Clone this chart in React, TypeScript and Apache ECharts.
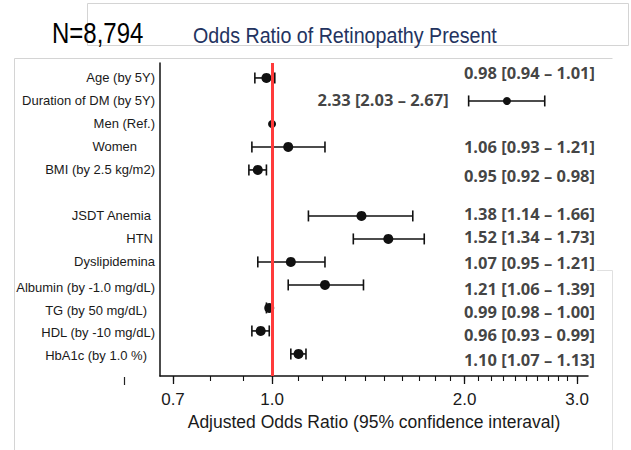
import React, { useEffect, useRef } from 'react';
import * as echarts from 'echarts';

// ---------------- data ----------------
const rowLabels = [
  'Age (by 5Y)',
  'Duration of DM (by 5Y)',
  'Men (Ref.)',
  'Women',
  'BMI (by 2.5 kg/m2)',
  '',
  'JSDT Anemia',
  'HTN',
  'Dyslipidemina',
  'Albumin (by -1.0 mg/dL)',
  'TG (by 50 mg/dL)',
  'HDL (by -10 mg/dL)',
  'HbA1c (by 1.0 %)',
];
const oddsRatios = [0.98, 2.33, 1.0, 1.06, 0.95, null, 1.38, 1.52, 1.07, 1.21, 0.99, 0.96, 1.1];
const ciLower = [0.94, 2.03, null, 0.93, 0.92, null, 1.14, 1.34, 0.95, 1.06, 0.98, 0.93, 1.07];
const ciUpper = [1.01, 2.67, null, 1.21, 0.98, null, 1.66, 1.73, 1.21, 1.39, 1.0, 0.99, 1.13];
const ciText = [
  '0.98 [0.94 – 1.01]',
  '2.33 [2.03 – 2.67]',
  '',
  '1.06 [0.93 – 1.21]',
  '0.95 [0.92 – 0.98]',
  '',
  '1.38 [1.14 – 1.66]',
  '1.52 [1.34 – 1.73]',
  '1.07 [0.95 – 1.21]',
  '1.21 [1.06 – 1.39]',
  '0.99 [0.98 – 1.00]',
  '0.96 [0.93 – 0.99]',
  '1.10 [1.07 – 1.13]',
];
const majorTicks = [0.7, 1.0, 2.0, 3.0];
const minorTicks = [
  0.7, 0.8, 0.9, 1.0, 1.1, 1.2, 1.3, 1.4, 1.5, 1.6, 1.7, 1.8, 1.9, 2.0,
  2.1, 2.2, 2.3, 2.4, 2.5, 2.6, 2.7, 2.8, 2.9, 3.0,
];
const axisRange = [0.668, 3.12];
const referenceValue = 1.0;
const sampleSize = 'N=8,794';
const chartTitle = 'Odds Ratio of Retinopathy Present';
const xAxisTitle = 'Adjusted Odds Ratio (95% confidence interaval)';

// ---------------- layout (not data) ----------------
const labelPadRight = [0, 0, 0, 18, 0, 0, 4, 2, 0, 0, 8, 0, 8];
const labelDy = [0, 0, 0, 0, 0, 0, 0, 0, 0, 3, 3, 2, 2];
const annotDy = [-5, -1, 0, 0, 6, 0, -2, -2, 1, 4, 4, 4, 6];

const LN = (v: number) => Math.log(v);
const SANS = '"Liberation Sans", Arial, Helvetica, sans-serif';

export default function App() {
  const ref = useRef<HTMLDivElement>(null);

  useEffect(() => {
    if (!ref.current) return;
    const chart = echarts.init(ref.current, null, { renderer: 'svg' });

    const rowIdx = rowLabels.map((_, i) => i + 1);
    const yMin = 0.35;
    const yMax = 13.96;

    const rich: Record<string, any> = {};
    rowLabels.forEach((_, i) => {
      const dy = labelDy[i];
      rich['r' + i] = {
        fontSize: 13,
        fontFamily: SANS,
        color: '#1a1a1a',
        padding: [dy > 0 ? dy * 2 : 0, labelPadRight[i], dy < 0 ? -dy * 2 : 0, 0],
      };
    });

    const errData: any[] = [];
    const dotData: any[] = [];
    const annData: any[] = [];
    rowLabels.forEach((_, i) => {
      const y = rowIdx[i];
      if (ciLower[i] != null && ciUpper[i] != null) {
        errData.push([LN(ciLower[i] as number), LN(ciUpper[i] as number), y]);
      }
      if (oddsRatios[i] != null) {
        dotData.push({ value: [LN(oddsRatios[i] as number), y], symbolSize: i === 2 || i === 1 ? 8 : 10 });
      }
      if (ciText[i]) {
        const wide = (ciUpper[i] as number) > 2;
        annData.push({
          value: [wide ? LN(ciLower[i] as number) : LN(axisRange[1]), y],
          label: {
            formatter: ciText[i],
            distance: wide ? 20 : 0,
            offset: [wide ? 0 : 7, annotDy[i]],
          },
        });
      }
    });

    const xBase = {
      type: 'value',
      min: LN(axisRange[0]),
      max: LN(axisRange[1]),
      splitLine: { show: false },
    };
    const yBase = {
      type: 'value',
      inverse: true,
      min: yMin,
      max: yMax,
      splitLine: { show: false },
    };

    const grid = { left: 160, right: 43, top: 63, bottom: 74, containLabel: false };

    chart.setOption({
      animation: false,
      backgroundColor: '#ffffff',
      graphic: [
        {
          type: 'rect',
          z: -1,
          shape: { x: 87.5, y: 3.5, width: 541, height: 42 },
          style: { fill: 'none', stroke: '#d4d4d4', lineWidth: 1 },
          silent: true,
        },
        {
          type: 'polyline',
          z: -1,
          shape: { points: [[14.5, 450], [14.5, 58.5], [612.5, 58.5]] },
          style: { fill: 'none', stroke: '#d4d4d4', lineWidth: 1 },
          silent: true,
        },
        {
          type: 'polyline',
          z: -1,
          shape: { points: [[597, 270.5], [612.5, 270.5], [612.5, 450]] },
          style: { fill: 'none', stroke: '#e0e0e0', lineWidth: 1 },
          silent: true,
        },
        {
          type: 'line',
          shape: { x1: 124.5, y1: 377, x2: 124.5, y2: 385 },
          style: { stroke: '#222', lineWidth: 1.2 },
          silent: true,
        },
        {
          type: 'text',
          x: 52,
          y: 33,
          scaleX: 0.8,
          z: 10,
          style: {
            text: sampleSize,
            fontSize: 30,
            fontFamily: SANS,
            fill: '#000',
            textAlign: 'left',
            textVerticalAlign: 'middle',
          },
          silent: true,
        },
        {
          type: 'text',
          x: 193,
          y: 35,
          scaleX: 0.894,
          z: 10,
          style: {
            text: chartTitle,
            fontSize: 22,
            fontFamily: SANS,
            fill: '#23335f',
            textAlign: 'left',
            textVerticalAlign: 'middle',
          },
          silent: true,
        },
      ],
      grid: [grid, { ...grid }],
      xAxis: [
        {
          ...xBase,
          gridIndex: 0,
          position: 'bottom',
          axisLine: { show: true, onZero: false, lineStyle: { color: '#111', width: 1.5 } },
          axisTick: {
            show: true,
            customValues: majorTicks.map(LN),
            length: 8,
            lineStyle: { color: '#111', width: 1.3 },
          },
          axisLabel: {
            customValues: majorTicks.map(LN),
            formatter: (v: number) => Math.exp(v).toFixed(1),
            fontSize: 17,
            fontFamily: SANS,
            color: '#1a1a1a',
            margin: 15,
          },
          name: xAxisTitle,
          nameLocation: 'middle',
          nameGap: 34,
          nameTextStyle: { fontSize: 17.5, fontFamily: SANS, color: '#1a1a1a' },
        },
        {
          ...xBase,
          gridIndex: 1,
          position: 'bottom',
          axisLine: { show: false, onZero: false },
          axisTick: {
            show: true,
            customValues: minorTicks.map(LN),
            length: 5,
            lineStyle: { color: '#111', width: 1.1 },
          },
          axisLabel: { show: false },
        },
      ],
      yAxis: [
        {
          ...yBase,
          gridIndex: 0,
          axisLine: { show: true, onZero: false, lineStyle: { color: '#111', width: 1.5 } },
          axisTick: { show: false },
          axisLabel: {
            customValues: rowIdx.filter((_, i) => rowLabels[i] !== ''),
            formatter: (v: number) => {
              const i = Math.round(v) - 1;
              return `{r${i}|${rowLabels[i]}}`;
            },
            rich,
            margin: 5,
          },
        },
        { ...yBase, gridIndex: 1, show: false },
      ],
      series: [
        {
          type: 'custom',
          name: 'CI',
          xAxisIndex: 0,
          yAxisIndex: 0,
          z: 2,
          encode: { x: [0, 1], y: 2 },
          renderItem: (params: any, api: any) => {
            const lo = api.coord([api.value(0), api.value(2)]);
            const hi = api.coord([api.value(1), api.value(2)]);
            const h = 5.5;
            const style = { stroke: '#111', lineWidth: 1.6 };
            return {
              type: 'group',
              children: [
                { type: 'line', shape: { x1: lo[0], y1: lo[1], x2: hi[0], y2: hi[1] }, style },
                { type: 'line', shape: { x1: lo[0], y1: lo[1] - h, x2: lo[0], y2: lo[1] + h }, style },
                { type: 'line', shape: { x1: hi[0], y1: hi[1] - h, x2: hi[0], y2: hi[1] + h }, style },
              ],
            };
          },
          data: errData,
        },
        {
          type: 'scatter',
          name: 'ref',
          xAxisIndex: 0,
          yAxisIndex: 0,
          z: 3,
          data: [],
          markLine: {
            silent: true,
            symbol: 'none',
            label: { show: false },
            lineStyle: { color: '#ff3b3b', width: 3, type: 'solid' },
            data: [{ xAxis: LN(referenceValue) }],
          },
        },
        {
          type: 'scatter',
          name: 'OR',
          xAxisIndex: 0,
          yAxisIndex: 0,
          z: 4,
          symbol: 'circle',
          itemStyle: { color: '#111', opacity: 1 },
          data: dotData,
        },
        {
          type: 'scatter',
          name: 'annotations',
          xAxisIndex: 0,
          yAxisIndex: 0,
          z: 5,
          symbolSize: 0,
          clip: false,
          label: {
            show: true,
            position: 'left',
            fontSize: 16.5,
            lineHeight: 18,
            fontWeight: 700,
            fontFamily: '"Open Sans", "Noto Sans", sans-serif',
            color: '#111',
          },
          data: annData,
        },
      ],
    });

    return () => chart.dispose();
  }, []);

  return (
    <div
      ref={ref}
      style={{ position: 'absolute', left: 0, top: 0, width: 631, height: 450, background: '#fff' }}
    />
  );
}
